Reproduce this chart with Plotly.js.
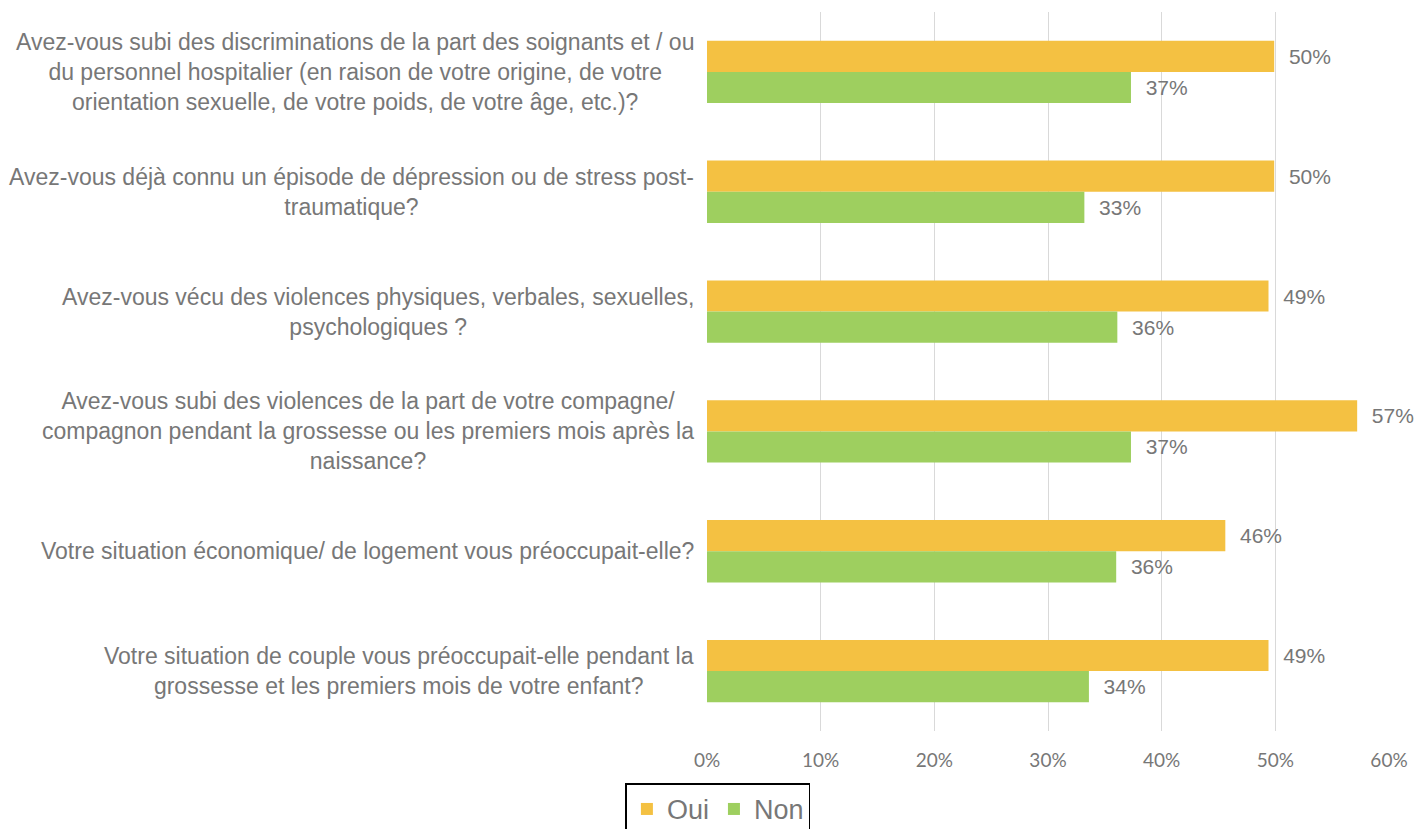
<!DOCTYPE html>
<html>
<head>
<meta charset="utf-8">
<script src="https://cdn.plot.ly/plotly-3.0.1.min.js"></script>
<style>html,body{margin:0;padding:0;background:#fff;}#chart{width:1416px;height:829px;}</style>
</head>
<body>
<div id="chart"></div>
<script>
const categories = [
  "Avez-vous subi des discriminations de la part des soignants et / ou<br>du personnel hospitalier (en raison de votre origine, de votre<br>orientation sexuelle, de votre poids, de votre âge, etc.)?",
  "Avez-vous déjà connu un épisode de dépression ou de stress post-<br>traumatique?",
  "Avez-vous vécu des violences physiques, verbales, sexuelles,<br>psychologiques ?",
  "Avez-vous subi des violences de la part de votre compagne/<br>compagnon pendant la grossesse ou les premiers mois après la<br>naissance?",
  "Votre situation économique/ de logement vous préoccupait-elle?",
  "Votre situation de couple vous préoccupait-elle pendant la<br>grossesse et les premiers mois de votre enfant?"
];
const ouiValues = [49.9, 49.9, 49.4, 57.2, 45.6, 49.4];
const nonValues = [37.3, 33.2, 36.1, 37.3, 36.0, 33.6];
const seriesNames = ["Oui", "Non"];
const xTickValues = [0, 10, 20, 30, 40, 50, 60];
const xTickLabels = ["0%", "10%", "20%", "30%", "40%", "50%", "60%"];

const sans = '"Liberation Sans Narrow", "Arial Narrow", "Liberation Sans", sans-serif';
const gray = '#777777';

const common = {
  type: 'bar', orientation: 'h', y: categories,
  texttemplate: '  %{x:.0f}%', textposition: 'outside', cliponaxis: false,
  textfont: {family: sans, size: 21, color: gray},
  hoverinfo: 'skip'
};
const traces = [
  Object.assign({}, common, {x: ouiValues, name: seriesNames[0], marker: {color: '#F4C142'}}),
  Object.assign({}, common, {x: nonValues, name: seriesNames[1], marker: {color: '#9ECF5F'}})
];

const annotations = categories.map(c => ({
  xref: 'paper', yref: 'y', x: -0.016, y: c, text: c,
  xanchor: 'right', yanchor: 'middle', align: 'center', showarrow: false,
  font: {family: sans, size: 23, color: gray}
}));

const layout = {
  width: 1416, height: 829,
  margin: {l: 707, r: 27, t: 12, b: 98},
  paper_bgcolor: '#ffffff', plot_bgcolor: '#ffffff',
  barmode: 'group', bargap: 0.48, bargroupgap: 0,
  xaxis: {
    range: [0, 60], tickvals: xTickValues, ticktext: xTickLabels,
    showgrid: true, gridcolor: '#d9d9d9', gridwidth: 1, zeroline: false,
    showline: false, ticks: '', ticklabelstandoff: 16,
    tickfont: {family: 'Lato, "Open Sans", sans-serif', size: 19, color: gray}
  },
  yaxis: {
    type: 'category', autorange: 'reversed', showticklabels: false,
    showgrid: false, zeroline: false, showline: false, ticks: ''
  },
  annotations: annotations,
  showlegend: true,
  legend: {
    orientation: 'h', xref: 'container', yref: 'container',
    x: 0.507, xanchor: 'center', y: 0.055, yanchor: 'top',
    bordercolor: '#000000', borderwidth: 1.5, bgcolor: '#ffffff',
    font: {family: sans, size: 27, color: gray},
    tracegroupgap: 0
  }
};

Plotly.newPlot('chart', traces, layout, {displayModeBar: false, staticPlot: true});
</script>
</body>
</html>
